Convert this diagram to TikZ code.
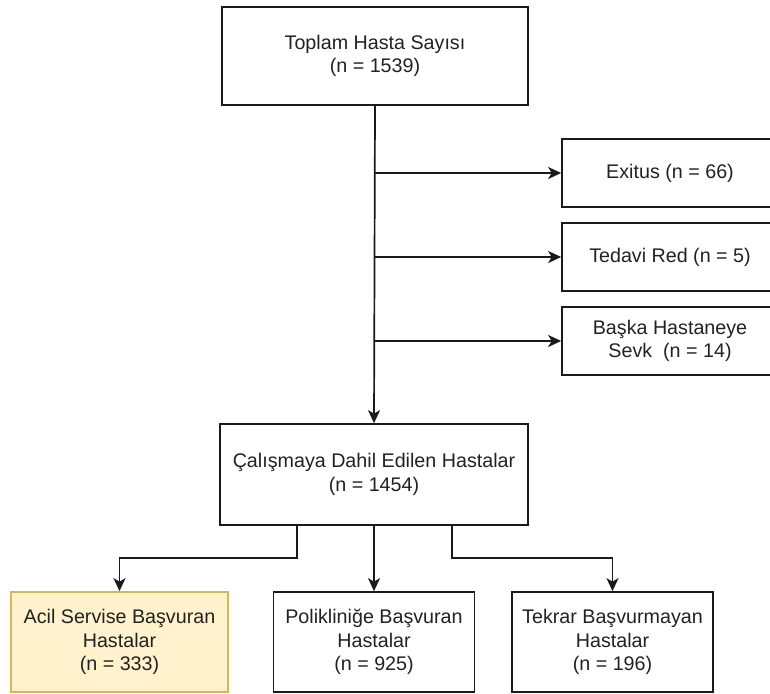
\documentclass[tikz,border=0pt]{standalone}
\usepackage{fontspec}
\setmainfont{Liberation Sans}
\usetikzlibrary{arrows.meta,positioning}
\definecolor{linec}{HTML}{1A1A1A}
\definecolor{textc}{HTML}{222222}
\definecolor{accfill}{HTML}{FFF2CC}
\definecolor{accdraw}{HTML}{D6B656}
\tikzset{
  box/.style={draw=linec, line width=1.7pt, fill=white, rectangle, align=center,
    text=textc, font=\fontsize{19.7pt}{23.6pt}\selectfont, inner sep=0pt},
  hlbox/.style={box, draw=accdraw, fill=accfill},
  arr/.style={draw=linec, line width=1.7pt, -{Stealth[length=13pt,width=12pt,inset=3.5pt]}},
  ln/.style={draw=linec, line width=1.7pt}
}
\begin{document}
\begin{tikzpicture}[x=1pt,y=-1pt]
\useasboundingbox[fill=white] (0,0) rectangle (770,693);
\node[box, minimum width=306pt, minimum height=98pt] (top) at (375,56) {Toplam Hasta Sayısı\\(n = 1539)};
\node[box, minimum width=216pt, minimum height=68pt] (ex) at (670,173) {Exitus (n = 66)};
\node[box, minimum width=216pt, minimum height=68pt] (red) at (670,257) {Tedavi Red (n = 5)};
\node[box, minimum width=216pt, minimum height=68pt] (sevk) at (670,341) {Başka Hastaneye\\Sevk\ \ (n = 14)};
\node[box, minimum width=308pt, minimum height=101pt] (cal) at (374,474.5) {Çalışmaya Dahil Edilen Hastalar\\(n = 1454)};
\node[hlbox, minimum width=217pt, minimum height=100pt] (acil) at (119.5,642) {Acil Servise Başvuran\\Hastalar\\(n = 333)};
\node[box, minimum width=201pt, minimum height=100pt] (poli) at (374,642) {Polikliniğe Başvuran\\Hastalar\\(n = 925)};
\node[box, minimum width=201pt, minimum height=100pt] (tek) at (612.5,642) {Tekrar Başvurmayan\\Hastalar\\(n = 196)};
\coordinate (b1) at (374,173);
\coordinate (b2) at (374,257);
\coordinate (b3) at (374,341);
\draw[arr] (top.south) -- (cal.north);
\draw[arr] (b1) -- (ex.west);
\draw[arr] (b2) -- (red.west);
\draw[arr] (b3) -- (sevk.west);
\coordinate (cl) at (297,525);
\coordinate (cr) at (452,525);
\draw[arr] (cl) -- ++(0,33) -| (acil.north);
\draw[arr] (cal.south) -- (poli.north);
\draw[arr] (cr) -- ++(0,33) -| (tek.north);
\end{tikzpicture}
\end{document}
